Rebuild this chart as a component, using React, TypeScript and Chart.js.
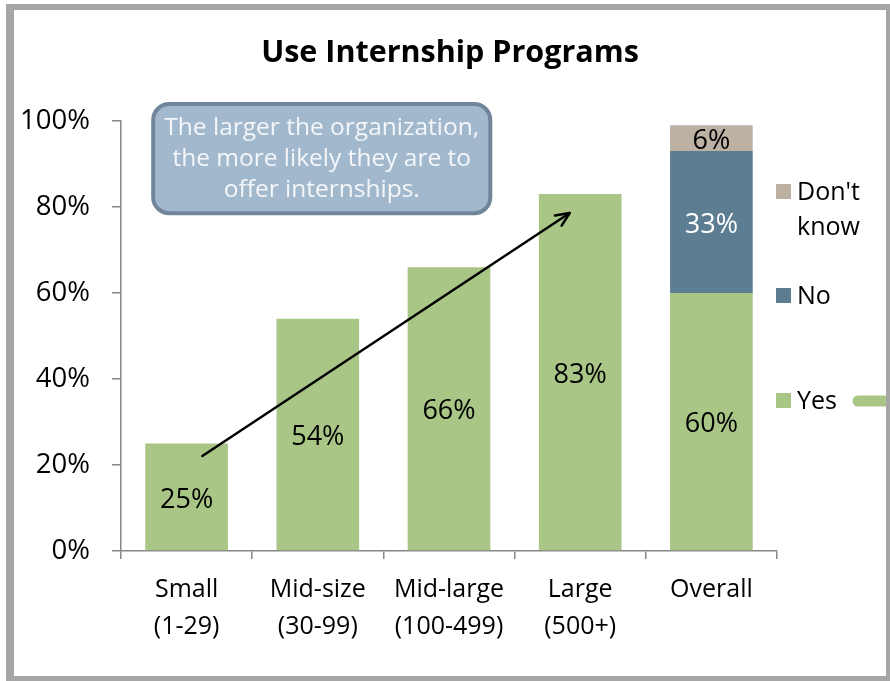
import React, { useEffect, useRef } from "react";
import { Chart, registerables } from "chart.js";

Chart.register(...registerables);

// ---- data ----
const chartTitle = "Use Internship Programs";
const categories: (string | string[])[] = [
  ["Small", "(1-29)"],
  ["Mid-size", "(30-99)"],
  ["Mid-large", "(100-499)"],
  ["Large", "(500+)"],
  "Overall",
];
const yesValues = [25, 54, 66, 83, 60];
const noValues = [null, null, null, null, 33];
const dontKnowValues = [null, null, null, null, 6];
const seriesNames = ["Yes", "No", "Don't know"];
const legendLines = [["Don't", "know"], ["No"], ["Yes"]]; // top to bottom
const yTickValues = [0, 20, 40, 60, 80, 100];
const noteLines = [
  "The larger the organization,",
  "the more likely they are to",
  "offer internships.",
];
// annotation anchors in data space (category index, percent)
const noteBox = { x0: -0.27, x1: 2.33, yTop: 104.4, yBottom: 78.1 };
const arrowFrom = { x: 0.12, y: 22.1 };
const arrowTo = { x: 2.92, y: 78.6 };

// ---- styles ----
const GREEN = "#a9c687";
const BLUE = "#5d7e92";
const TAN = "#bdb1a4";
const FONT = "'Open Sans', 'Noto Sans', sans-serif";

const overlayPlugin = {
  id: "overlay",
  afterDatasetsDraw(chart: any) {
    const ctx = chart.ctx;
    const xs = chart.scales.x;
    const ys = chart.scales.y;

    // title, centred on the whole frame
    ctx.save();
    ctx.font = `bold 30.5px ${FONT}`;
    ctx.fillStyle = "#000000";
    ctx.textAlign = "center";
    ctx.textBaseline = "middle";
    ctx.fillText(chartTitle, 450, 53);
    ctx.restore();

    // value labels
    ctx.save();
    ctx.font = `27px ${FONT}`;
    ctx.textAlign = "center";
    ctx.textBaseline = "middle";
    chart.data.datasets.forEach((ds: any, di: number) => {
      const meta = chart.getDatasetMeta(di);
      meta.data.forEach((el: any, i: number) => {
        const v = ds.data[i];
        if (v === null || v === undefined) return;
        const p = el.getCenterPoint();
        ctx.fillStyle = di === 1 ? "#ffffff" : "#000000";
        ctx.fillText(`${v}%`, p.x, p.y + 3);
      });
    });
    ctx.restore();

    // note box
    const bx0 = xs.getPixelForValue(noteBox.x0);
    const bx1 = xs.getPixelForValue(noteBox.x1);
    const by0 = ys.getPixelForValue(noteBox.yTop);
    const by1 = ys.getPixelForValue(noteBox.yBottom);
    ctx.save();
    ctx.beginPath();
    ctx.roundRect(bx0 + 2, by0 + 2, bx1 - bx0 - 4, by1 - by0 - 4, 16);
    ctx.fillStyle = "#a2b8cd";
    ctx.fill();
    ctx.lineWidth = 4;
    ctx.strokeStyle = "#71869a";
    ctx.stroke();
    ctx.fillStyle = "#f4f6f9";
    ctx.font = `24.5px ${FONT}`;
    ctx.textAlign = "center";
    ctx.textBaseline = "middle";
    const cx = (bx0 + bx1) / 2;
    const cy = (by0 + by1) / 2;
    noteLines.forEach((line, i) => {
      ctx.fillText(line, cx, cy + (i - 1) * 31);
    });
    ctx.restore();

    // arrow
    const ax0 = xs.getPixelForValue(arrowFrom.x);
    const ay0 = ys.getPixelForValue(arrowFrom.y);
    const ax1 = xs.getPixelForValue(arrowTo.x);
    const ay1 = ys.getPixelForValue(arrowTo.y);
    const ang = Math.atan2(ay1 - ay0, ax1 - ax0);
    ctx.save();
    ctx.strokeStyle = "#000000";
    ctx.lineWidth = 2.5;
    ctx.lineCap = "round";
    ctx.lineJoin = "round";
    ctx.beginPath();
    ctx.moveTo(ax0, ay0);
    ctx.lineTo(ax1, ay1);
    ctx.stroke();
    const head = 15;
    const spread = 0.42;
    ctx.beginPath();
    ctx.moveTo(ax1 - head * Math.cos(ang - spread), ay1 - head * Math.sin(ang - spread));
    ctx.lineTo(ax1, ay1);
    ctx.lineTo(ax1 - head * Math.cos(ang + spread), ay1 - head * Math.sin(ang + spread));
    ctx.stroke();
    ctx.restore();

    // legend (custom, multi-line)
    const order = [2, 1, 0];
    const itemTops = [184, 288, 393];
    ctx.save();
    ctx.font = `25px ${FONT}`;
    ctx.textAlign = "left";
    ctx.textBaseline = "middle";
    order.forEach((di, k) => {
      const ds = chart.data.datasets[di];
      const top = itemTops[k];
      ctx.fillStyle = ds.backgroundColor;
      ctx.fillRect(776, top, 15, 15);
      ctx.fillStyle = "#000000";
      legendLines[k].forEach((ln, j) => {
        ctx.fillText(ln, 797, top + 9 + j * 35);
      });
    });
    // connector stub at the right edge
    ctx.strokeStyle = GREEN;
    ctx.lineWidth = 11;
    ctx.lineCap = "round";
    ctx.beginPath();
    ctx.moveTo(858, itemTops[2] + 8);
    ctx.lineTo(895, itemTops[2] + 8);
    ctx.stroke();
    ctx.restore();
  },
};

export default function App() {
  const canvasRef = useRef<HTMLCanvasElement | null>(null);

  useEffect(() => {
    if (!canvasRef.current) return;
    const chart = new Chart(canvasRef.current, {
      type: "bar",
      data: {
        labels: categories,
        datasets: [
          { label: seriesNames[0], data: yesValues, backgroundColor: GREEN },
          { label: seriesNames[1], data: noValues, backgroundColor: BLUE },
          { label: seriesNames[2], data: dontKnowValues, backgroundColor: TAN },
        ],
      },
      options: {
        animation: false,
        responsive: false,
        maintainAspectRatio: false,
        layout: { padding: { left: 0, right: 113, top: 121, bottom: 0 } },
        datasets: {
          bar: { categoryPercentage: 1, barPercentage: 0.63 },
        },
        plugins: {
          legend: { display: false },
          tooltip: { enabled: false },
          title: { display: false },
        },
        scales: {
          x: {
            stacked: true,
            grid: {
              display: true,
              offset: true,
              drawOnChartArea: false,
              drawTicks: true,
              tickLength: 8,
              color: "#868686",
              lineWidth: 1.5,
            },
            border: { display: true, color: "#868686", width: 1.5 },
            ticks: {
              color: "#000000",
              font: { family: FONT, size: 25, lineHeight: 1.48 },
              padding: 12,
              maxRotation: 0,
              autoSkip: false,
            },
            afterFit: (s: any) => {
              s.height = 130;
            },
          },
          y: {
            stacked: true,
            min: 0,
            max: 100,
            afterBuildTicks: (s: any) => {
              s.ticks = yTickValues.map((v) => ({ value: v }));
            },
            grid: {
              display: true,
              drawOnChartArea: false,
              drawTicks: true,
              tickLength: 9,
              color: "#868686",
              lineWidth: 1.5,
            },
            border: { display: true, color: "#868686", width: 1.5 },
            ticks: {
              color: "#000000",
              font: { family: FONT, size: 27.5 },
              padding: 22,
              callback: (v: any) => `${v}%`,
            },
            afterFit: (s: any) => {
              s.width = 121;
            },
          },
        },
      },
      plugins: [overlayPlugin],
    });
    return () => chart.destroy();
  }, []);

  return (
    <div
      style={{
        position: "absolute",
        left: 0,
        top: 0,
        width: 890,
        height: 681,
        background: "#ffffff",
        overflow: "hidden",
      }}
    >
      <canvas
        ref={canvasRef}
        width={890}
        height={681}
        style={{ position: "absolute", left: 0, top: 0, width: 890, height: 681 }}
      />
      <div
        style={{
          position: "absolute",
          left: 6,
          top: 4,
          width: 884,
          height: 677,
          boxSizing: "border-box",
          borderLeft: "8px solid #a6a6a6",
          borderTop: "6px solid #a6a6a6",
          borderRight: "4px solid #a6a6a6",
          borderBottom: "5px solid #a6a6a6",
          pointerEvents: "none",
        }}
      />
    </div>
  );
}
